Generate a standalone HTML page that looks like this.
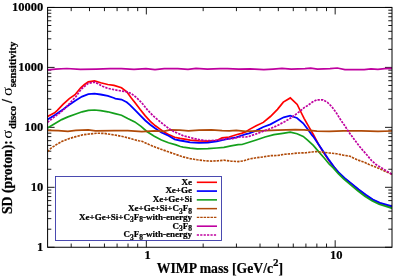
<!DOCTYPE html><html><head><meta charset="utf-8"><style>html,body{margin:0;padding:0;background:#fff}svg{display:block}text{font-family:"Liberation Serif",serif;font-weight:bold;fill:#000}</style></head><body>
<svg width="395" height="278" viewBox="0 0 395 278">
<rect width="395" height="278" fill="#fff"/>
<path d="M47.6,247.25 h7 M392.0,247.25 h-7 M47.6,229.20 h3.7 M392.0,229.20 h-3.7 M47.6,218.65 h3.7 M392.0,218.65 h-3.7 M47.6,211.16 h3.7 M392.0,211.16 h-3.7 M47.6,205.35 h3.7 M392.0,205.35 h-3.7 M47.6,200.60 h3.7 M392.0,200.60 h-3.7 M47.6,196.59 h3.7 M392.0,196.59 h-3.7 M47.6,193.11 h3.7 M392.0,193.11 h-3.7 M47.6,190.04 h3.7 M392.0,190.04 h-3.7 M47.6,187.30 h7 M392.0,187.30 h-7 M47.6,169.25 h3.7 M392.0,169.25 h-3.7 M47.6,158.70 h3.7 M392.0,158.70 h-3.7 M47.6,151.21 h3.7 M392.0,151.21 h-3.7 M47.6,145.40 h3.7 M392.0,145.40 h-3.7 M47.6,140.65 h3.7 M392.0,140.65 h-3.7 M47.6,136.64 h3.7 M392.0,136.64 h-3.7 M47.6,133.16 h3.7 M392.0,133.16 h-3.7 M47.6,130.09 h3.7 M392.0,130.09 h-3.7 M47.6,127.35 h7 M392.0,127.35 h-7 M47.6,109.30 h3.7 M392.0,109.30 h-3.7 M47.6,98.75 h3.7 M392.0,98.75 h-3.7 M47.6,91.26 h3.7 M392.0,91.26 h-3.7 M47.6,85.45 h3.7 M392.0,85.45 h-3.7 M47.6,80.70 h3.7 M392.0,80.70 h-3.7 M47.6,76.69 h3.7 M392.0,76.69 h-3.7 M47.6,73.21 h3.7 M392.0,73.21 h-3.7 M47.6,70.14 h3.7 M392.0,70.14 h-3.7 M47.6,67.40 h7 M392.0,67.40 h-7 M47.6,49.35 h3.7 M392.0,49.35 h-3.7 M47.6,38.80 h3.7 M392.0,38.80 h-3.7 M47.6,31.31 h3.7 M392.0,31.31 h-3.7 M47.6,25.50 h3.7 M392.0,25.50 h-3.7 M47.6,20.75 h3.7 M392.0,20.75 h-3.7 M47.6,16.74 h3.7 M392.0,16.74 h-3.7 M47.6,13.26 h3.7 M392.0,13.26 h-3.7 M47.6,10.19 h3.7 M392.0,10.19 h-3.7 M47.6,7.45 h7 M392.0,7.45 h-7 M71.19,247.25 v-3.7 M71.19,7.45 v3.7 M89.49,247.25 v-3.7 M89.49,7.45 v3.7 M104.44,247.25 v-3.7 M104.44,7.45 v3.7 M117.08,247.25 v-3.7 M117.08,7.45 v3.7 M128.03,247.25 v-3.7 M128.03,7.45 v3.7 M137.69,247.25 v-3.7 M137.69,7.45 v3.7 M146.33,247.25 v-7 M146.33,7.45 v7 M203.17,247.25 v-3.7 M203.17,7.45 v3.7 M236.43,247.25 v-3.7 M236.43,7.45 v3.7 M260.02,247.25 v-3.7 M260.02,7.45 v3.7 M278.32,247.25 v-3.7 M278.32,7.45 v3.7 M293.27,247.25 v-3.7 M293.27,7.45 v3.7 M305.91,247.25 v-3.7 M305.91,7.45 v3.7 M316.86,247.25 v-3.7 M316.86,7.45 v3.7 M326.52,247.25 v-3.7 M326.52,7.45 v3.7 M335.16,247.25 v-7 M335.16,7.45 v7" stroke="#000" stroke-width="0.9" fill="none"/>
<clipPath id="c"><rect x="47.6" y="7.45" width="344.4" height="239.8"/></clipPath>
<g clip-path="url(#c)" fill="none" stroke-linejoin="miter" stroke-linecap="butt">
<path d="M47.5,116.5 L54.6,112.8 L57.3,110.3 L63.0,104.4 L69.3,98.6 L75.0,94.7 L80.7,87.8 L84.5,84.5 L88.3,81.8 L94.5,80.9 L100.7,82.8 L107.8,84.5 L114.0,85.4 L121.5,87.8 L126.8,91.8 L131.3,98.0 L135.1,102.8 L140.2,109.6 L145.3,115.9 L150.3,121.4 L155.4,125.8 L160.4,129.4 L164.5,132.3 L168.5,134.5 L174.7,137.3 L180.0,138.4 L183.1,138.9 L190.2,140.1 L199.0,140.8 L207.9,141.1 L216.8,140.5 L222.1,137.9 L229.2,137.0 L236.3,134.7 L241.6,133.4 L246.0,131.8 L249.1,129.6 L256.2,125.8 L263.3,122.4 L270.4,116.5 L277.5,109.4 L283.3,102.1 L290.3,97.9 L297.2,104.4 L300.4,111.0 L304.2,118.6 L308.6,126.4 L313.3,134.5 L318.6,144.5 L324.0,153.2 L329.3,161.0 L334.6,167.8 L339.2,173.5 L344.5,178.5 L351.6,184.2 L358.7,190.0 L365.8,195.3 L372.9,200.1 L380.0,203.3 L387.1,205.5 L392.5,207.2" stroke="#ff0000" stroke-width="1.7"/>
<path d="M47.5,119.6 L54.6,115.3 L63.0,109.5 L69.3,104.8 L75.6,100.4 L82.0,96.6 L88.3,94.1 L94.5,93.7 L100.7,94.5 L107.8,95.9 L114.0,98.0 L115.3,98.6 L121.5,99.5 L126.8,102.3 L130.1,105.1 L135.1,110.1 L140.2,115.4 L145.3,120.5 L150.3,124.7 L155.4,128.5 L161.4,132.5 L168.5,135.7 L174.7,139.3 L180.0,140.5 L183.1,141.0 L190.2,142.3 L199.0,142.8 L207.9,142.7 L216.8,141.3 L222.1,140.1 L229.2,138.7 L236.3,137.3 L241.6,135.5 L246.0,134.2 L249.1,133.3 L256.2,130.6 L263.3,127.0 L270.4,124.4 L277.5,120.5 L283.7,117.3 L290.2,115.7 L297.0,118.0 L303.2,123.3 L307.6,129.0 L312.0,135.2 L313.3,136.5 L318.6,144.5 L324.0,152.5 L329.3,160.4 L333.9,166.8 L339.2,173.0 L344.5,178.0 L351.6,183.6 L358.7,189.5 L365.8,194.8 L372.9,199.6 L380.0,202.8 L387.1,204.9 L392.5,206.7" stroke="#0000ff" stroke-width="1.8"/>
<path d="M47.5,127.9 L54.6,123.8 L61.7,119.6 L67.9,116.9 L75.9,114.0 L82.1,111.8 L88.3,110.3 L94.5,110.0 L100.7,110.6 L107.8,111.8 L114.0,113.4 L121.5,115.3 L127.7,118.5 L134.8,121.9 L141.0,126.3 L147.2,131.7 L154.3,136.2 L161.4,140.1 L168.5,142.8 L176.0,144.9 L180.3,146.5 L183.1,147.1 L190.2,148.1 L197.3,148.8 L207.9,148.7 L216.8,148.0 L223.9,147.3 L231.0,145.8 L238.1,144.7 L242.0,144.5 L249.1,142.3 L256.2,140.0 L265.0,137.0 L273.9,134.7 L282.8,133.3 L290.2,132.1 L297.0,133.7 L303.2,136.4 L307.6,140.1 L313.3,145.4 L318.6,151.6 L324.0,157.8 L329.3,164.2 L333.0,167.7 L338.3,173.7 L343.6,178.9 L350.7,184.8 L357.8,190.8 L364.9,196.2 L372.0,200.8 L379.1,204.2 L386.2,206.4 L392.5,208.4" stroke="#14a01c" stroke-width="1.7"/>
<path d="M47.5,130.4 L58.2,130.7 L67.9,131.3 L75.9,130.4 L88.3,129.9 L95.4,130.9 L114.0,130.7 L127.7,130.7 L141.9,131.6 L154.3,130.9 L163.2,131.3 L170.3,129.9 L180.0,130.2 L188.4,130.9 L199.0,130.2 L211.5,129.9 L222.1,130.6 L229.2,130.9 L236.3,130.4 L246.0,131.3 L259.7,130.9 L277.5,130.2 L295.2,129.7 L304.1,129.9 L312.0,130.7 L316.9,131.2 L329.3,131.3 L343.5,130.8 L361.2,130.8 L370.0,131.1 L378.0,131.3 L392.5,131.0" stroke="#b04a08" stroke-width="1.7"/>
<path d="M47.5,151.7 L51.1,148.1 L56.4,144.6 L61.7,141.6 L68.8,138.7 L75.9,136.6 L83.0,134.8 L90.1,133.9 L97.2,133.2 L104.3,133.4 L110.0,134.3 L117.1,135.4 L124.2,136.9 L129.0,138.1 L133.0,139.3 L138.7,140.8 L141.9,141.3 L149.0,144.5 L156.1,147.5 L163.2,150.0 L172.1,153.1 L176.0,154.5 L183.1,156.9 L190.2,158.6 L197.3,159.8 L204.4,160.7 L211.5,161.1 L218.6,160.7 L223.9,160.2 L231.0,161.1 L238.1,161.6 L243.4,160.9 L249.1,159.0 L256.2,157.8 L263.3,156.9 L270.4,155.7 L277.5,155.5 L284.6,154.3 L291.6,153.7 L298.7,153.0 L305.8,152.8 L312.0,152.0 L315.1,151.6 L322.2,152.1 L329.3,153.0 L336.4,153.7 L343.5,155.2 L350.1,156.2 L353.9,158.2 L358.9,160.4 L364.0,162.1 L369.1,164.5 L374.1,166.5 L379.2,168.5 L385.5,171.5 L392.5,174.4" stroke="#b04a08" stroke-width="1.65" stroke-dasharray="2.4,1.02"/>
<path d="M47.5,69.8 L55.4,69.1 L66.8,68.5 L80.4,69.3 L96.4,69.1 L110.0,68.7 L121.4,68.7 L134.0,69.3 L146.0,68.7 L155.0,69.6 L164.2,68.7 L177.8,68.7 L188.0,69.3 L196.0,68.4 L207.4,69.1 L220.0,68.7 L227.4,68.7 L238.8,69.1 L250.2,68.9 L263.8,69.7 L273.0,69.1 L282.0,68.4 L291.2,69.1 L305.0,68.6 L310.7,68.2 L317.5,69.1 L330.0,68.7 L337.3,68.0 L344.9,69.6 L364.2,69.6 L371.0,68.9 L377.9,69.3 L384.7,68.7 L392.5,68.4" stroke="#bf009f" stroke-width="1.7"/>
<path d="M47.5,122.4 L54.6,116.7 L61.7,111.4 L65.3,108.1 L70.6,102.3 L75.9,96.6 L81.2,89.1 L88.3,83.3 L94.5,82.1 L98.1,83.8 L102.5,86.3 L107.8,88.3 L114.0,89.7 L121.5,91.0 L126.8,91.8 L131.3,93.6 L136.6,97.7 L141.9,103.0 L147.2,109.6 L152.6,115.3 L157.9,119.9 L163.2,124.2 L168.5,128.3 L173.8,131.6 L180.0,134.2 L183.1,135.7 L190.2,137.5 L197.3,139.3 L204.4,140.5 L211.5,140.5 L218.6,140.1 L225.6,138.9 L232.7,138.6 L239.8,137.0 L246.0,137.0 L249.1,136.4 L256.2,133.9 L263.3,131.2 L270.4,128.6 L277.5,125.4 L284.6,121.7 L291.6,117.5 L298.7,112.2 L304.1,107.7 L308.0,105.3 L312.4,102.1 L316.9,99.8 L323.1,99.8 L327.5,102.4 L331.9,106.8 L336.4,113.0 L340.8,120.1 L345.2,126.3 L348.8,132.1 L354.1,139.2 L359.4,146.3 L362.7,150.2 L367.2,155.3 L371.6,160.6 L376.0,164.6 L380.4,167.2 L385.5,170.3 L392.5,174.6" stroke="#bf009f" stroke-width="1.7" stroke-dasharray="2.3,1.12"/>
</g>
<rect x="55.5" y="176.5" width="166" height="64" fill="#fff" stroke="#3838a8" stroke-width="0.9"/>
<g style="filter:grayscale(1)">
<text x="192" y="184.60" font-size="9" text-anchor="end" stroke="#000" stroke-width="0.22">Xe</text>
<text x="192" y="193.38" font-size="9" text-anchor="end" stroke="#000" stroke-width="0.22">Xe+Ge</text>
<text x="192" y="202.16" font-size="9" text-anchor="end" stroke="#000" stroke-width="0.22">Xe+Ge+Si</text>
<text x="192" y="210.94" font-size="9" text-anchor="end" stroke="#000" stroke-width="0.22">Xe+Ge+Si+C<tspan dy="2.6" font-size="7.5">3</tspan><tspan dy="-2.6">F</tspan><tspan dy="2.6" font-size="7.5">8</tspan></text>
<text x="192" y="219.72" font-size="9" text-anchor="end" stroke="#000" stroke-width="0.22">Xe+Ge+Si+C<tspan dy="2.6" font-size="7.5">3</tspan><tspan dy="-2.6">F</tspan><tspan dy="2.6" font-size="7.5">8</tspan><tspan dy="-2.6">-with-energy</tspan></text>
<text x="192" y="228.50" font-size="9" text-anchor="end" stroke="#000" stroke-width="0.22">C<tspan dy="2.6" font-size="7.5">3</tspan><tspan dy="-2.6">F</tspan><tspan dy="2.6" font-size="7.5">8</tspan></text>
<text x="192" y="237.28" font-size="9" text-anchor="end" stroke="#000" stroke-width="0.22">C<tspan dy="2.6" font-size="7.5">3</tspan><tspan dy="-2.6">F</tspan><tspan dy="2.6" font-size="7.5">8</tspan><tspan dy="-2.6">-with-energy</tspan></text>
</g>
<path d="M196.8,182.30 L217,182.30" stroke="#ff0000" stroke-width="1.6" fill="none"/>
<path d="M196.8,191.08 L217,191.08" stroke="#0000ff" stroke-width="1.7" fill="none"/>
<path d="M196.8,199.86 L217,199.86" stroke="#14a01c" stroke-width="1.6" fill="none"/>
<path d="M196.8,208.64 L217,208.64" stroke="#b04a08" stroke-width="1.5" fill="none"/>
<path d="M196.8,217.42 L217,217.42" stroke="#b04a08" stroke-width="1.3" stroke-dasharray="2.5,0.92" fill="none"/>
<path d="M196.8,226.20 L217,226.20" stroke="#bf009f" stroke-width="1.6" fill="none"/>
<path d="M196.8,234.98 L217,234.98" stroke="#bf009f" stroke-width="1.7" stroke-dasharray="2.2,1.22" fill="none"/>
<rect x="47.6" y="7.45" width="344.4" height="239.8" fill="none" stroke="#000" stroke-width="1"/>
<g style="filter:grayscale(1)">
<text x="43.2" y="250.75" font-size="12.5" text-anchor="end" stroke="#000" stroke-width="0.2">1</text>
<text x="43.2" y="190.80" font-size="12.5" text-anchor="end" stroke="#000" stroke-width="0.2">10</text>
<text x="43.2" y="130.85" font-size="12.5" text-anchor="end" stroke="#000" stroke-width="0.2">100</text>
<text x="43.2" y="70.90" font-size="12.5" text-anchor="end" stroke="#000" stroke-width="0.2">1000</text>
<text x="43.2" y="10.95" font-size="12.5" text-anchor="end" stroke="#000" stroke-width="0.2">10000</text>
<text x="147.53" y="259.3" font-size="12.5" text-anchor="middle" stroke="#000" stroke-width="0.2">1</text>
<text x="336.36" y="259.3" font-size="12.5" text-anchor="middle" stroke="#000" stroke-width="0.2">10</text>
<text x="219.9" y="272.6" font-size="13.7" text-anchor="middle" stroke="#000" stroke-width="0.2">WIMP mass [GeV/c<tspan dy="-6.5" font-size="11">2</tspan><tspan dy="6.5">]</tspan></text>
<text transform="translate(12.3,214.0) rotate(-90)" font-size="14" style="font-weight:bold" stroke="#000" stroke-width="0.25" textLength="73.8" lengthAdjust="spacingAndGlyphs">SD (proton):</text>
<text transform="translate(12.0,138.7) rotate(-90)" font-size="14.5" style="font-weight:normal" textLength="9.0" lengthAdjust="spacingAndGlyphs">σ</text>
<text transform="translate(16.0,129.0) rotate(-90)" font-size="11.4" style="font-weight:bold" stroke="#000" stroke-width="0.25" textLength="23.2" lengthAdjust="spacingAndGlyphs">disco</text>
<text transform="translate(12.3,103.0) rotate(-90)" font-size="14" style="font-weight:bold" stroke="#000" stroke-width="0.25">/</text>
<text transform="translate(12.0,95.9) rotate(-90)" font-size="14.5" style="font-weight:normal" textLength="9.0" lengthAdjust="spacingAndGlyphs">σ</text>
<text transform="translate(16.0,87.3) rotate(-90)" font-size="11.4" style="font-weight:bold" stroke="#000" stroke-width="0.25" textLength="45.7" lengthAdjust="spacingAndGlyphs">sensitivity</text>
</g>
</svg></body></html>
